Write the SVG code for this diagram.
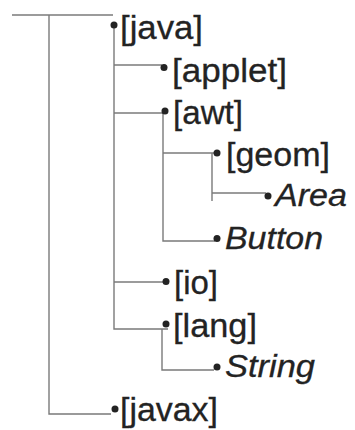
<svg xmlns="http://www.w3.org/2000/svg" width="355" height="430" viewBox="0 0 355 430">
<style>
.bg{fill:#ffffff}
.ln{stroke:#7a7a7a;stroke-width:1.4;fill:none}
.dot{fill:#232323}
.t{font-family:"Liberation Sans",Arial,sans-serif;font-size:33px;fill:#232323;stroke:#232323;stroke-width:0.3}
.i{font-family:"Liberation Sans",Arial,sans-serif;font-size:31px;font-style:italic;fill:#232323;stroke:#232323;stroke-width:0.3}
</style>
<rect class="bg" x="0" y="0" width="355" height="430"/>
<g id="connectors">
<path class="ln" d="M12,15 H113"/>
<path class="ln" d="M49,15 V414 H111"/>
<path class="ln" d="M114,25 V329 H168"/>
<path class="ln" d="M114,65 H162"/>
<path class="ln" d="M114,113 H163"/>
<path class="ln" d="M114,282 H164"/>
<path class="ln" d="M163,111 V241 H215"/>
<path class="ln" d="M163,153 H215"/>
<path class="ln" d="M212,153 V201"/>
<path class="ln" d="M212,193 H266"/>
<path class="ln" d="M162,329 V370 H214"/>
</g>
<g id="java"><circle class="dot" cx="114" cy="25" r="3.5"/><text class="t" x="120" y="39" textLength="83" lengthAdjust="spacingAndGlyphs">[java]</text></g>
<g id="applet"><circle class="dot" cx="164" cy="67.5" r="3.5"/><text class="t" x="172" y="82" textLength="115" lengthAdjust="spacingAndGlyphs">[applet]</text></g>
<g id="awt"><circle class="dot" cx="165" cy="111" r="3.5"/><text class="t" x="173" y="124" textLength="70" lengthAdjust="spacingAndGlyphs">[awt]</text></g>
<g id="geom"><circle class="dot" cx="217" cy="153" r="3.5"/><text class="t" x="226" y="166" textLength="104" lengthAdjust="spacingAndGlyphs">[geom]</text></g>
<g id="Area"><circle class="dot" cx="268" cy="196" r="3.5"/><text class="i" x="275" y="206" textLength="72" lengthAdjust="spacingAndGlyphs">Area</text></g>
<g id="Button"><circle class="dot" cx="217" cy="238.5" r="3.5"/><text class="i" x="225" y="249" textLength="98" lengthAdjust="spacingAndGlyphs">Button</text></g>
<g id="io"><circle class="dot" cx="166" cy="281.5" r="3.5"/><text class="t" x="174" y="294" textLength="44" lengthAdjust="spacingAndGlyphs">[io]</text></g>
<g id="lang"><circle class="dot" cx="166" cy="324" r="3.5"/><text class="t" x="173" y="337" textLength="84" lengthAdjust="spacingAndGlyphs">[lang]</text></g>
<g id="String"><circle class="dot" cx="217" cy="367" r="3.5"/><text class="i" x="225" y="377" textLength="90" lengthAdjust="spacingAndGlyphs">String</text></g>
<g id="javax"><circle class="dot" cx="115" cy="409" r="3.5"/><text class="t" x="120" y="421" textLength="98" lengthAdjust="spacingAndGlyphs">[javax]</text></g>
</svg>
